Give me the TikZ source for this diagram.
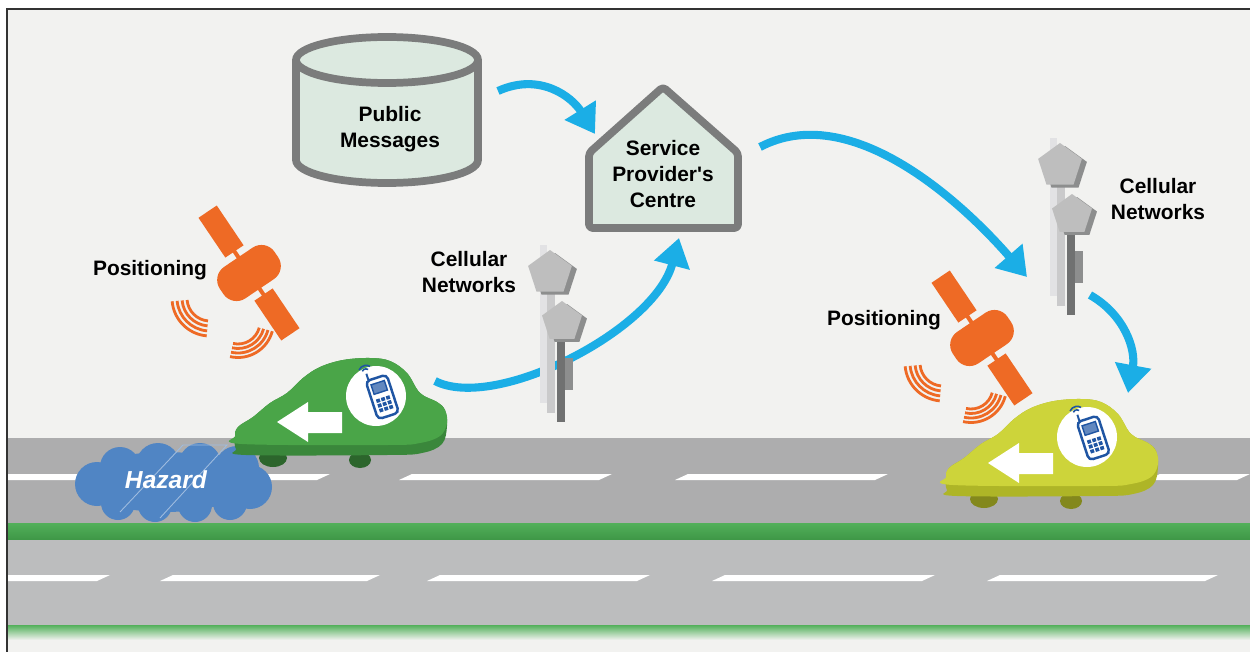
\documentclass[tikz,border=0pt]{standalone}
\usepackage{fontspec}
\setmainfont{Liberation Sans}
\usetikzlibrary{arrows.meta}

\definecolor{paper}{HTML}{F2F2F0}
\definecolor{roadtop}{HTML}{ADADAE}
\definecolor{roadlow}{HTML}{BCBDBE}
\definecolor{verge}{HTML}{52B05A}
\definecolor{vergedark}{HTML}{3E9646}
\definecolor{skyblue}{HTML}{1BAEE6}
\definecolor{outlinegray}{HTML}{7B7C7C}
\definecolor{paleteal}{HTML}{DCE9E0}
\definecolor{satorange}{HTML}{EE6A25}
\definecolor{hazardblue}{HTML}{5085C4}
\definecolor{phoneblue}{HTML}{1F55A3}
\definecolor{poleA}{HTML}{E2E2E4}
\definecolor{poleB}{HTML}{CACACB}
\definecolor{poleC}{HTML}{707171}
\definecolor{headgray}{HTML}{BEBEBE}
\definecolor{headshade}{HTML}{8D8E8E}
\definecolor{cargreen}{HTML}{4AA548}
\definecolor{cargreendark}{HTML}{3A873B}
\definecolor{caryellow}{HTML}{CDD43A}
\definecolor{caryellowdark}{HTML}{AEB527}

\tikzset{
  flow/.style={draw=skyblue, line width=4.6pt, -{Triangle[width=20pt,length=16pt]}},
  lbl/.style={font=\bfseries\fontsize{11.9}{14.8}\selectfont, align=center},
  store/.style={draw=outlinegray, fill=paleteal, line width=4.4pt, line join=round},
  wave/.style={draw=satorange, line width=1.6pt},
  pics/tower/.style={code={
    % poles, back to front
    \fill[poleA] (-10,-28) rectangle (-3,130);
    \fill[poleB] (-3,17) rectangle (5,140);
    \fill[poleC] (7,69) rectangle (15,149);
    \fill[headshade] (15,85) rectangle (23,117);
    % antenna heads
    \foreach \hx/\hy/\hr in {0/0/23, 12/49/21} {
      \begin{scope}[shift={(\hx+5,\hy+3)}]
        \fill[headshade] (270:\hr) -- (342:\hr) -- (54:\hr) -- (126:\hr) -- (198:\hr) -- cycle;
      \end{scope}
      \begin{scope}[shift={(\hx,\hy)}]
        \fill[headgray] (270:\hr) -- (342:\hr) -- (54:\hr) -- (126:\hr) -- (198:\hr) -- cycle;
      \end{scope}
    }
  }},
  pics/satellite/.style={code={
    \begin{scope}[rotate=-56]
      \fill[satorange] (-32,-2) rectangle (32,2);
      \fill[satorange] (-74,-11) rectangle (-26,11);
      \fill[satorange] (26,-11) rectangle (74,11);
      \fill[satorange, rounded corners=9pt] (-19,-33) rectangle (19,33);
    \end{scope}
    % signals sent down to the road
    \foreach \r in {23,28,33,38}
      \draw[wave] (-39,25) ++(95:\r) arc[start angle=95, end angle=175, radius=\r];
    \foreach \r in {22,26.5,31,35.5}
      \draw[wave] (-11,49) ++(15:\r) arc[start angle=15, end angle=103, radius=\r];
  }},
  pics/car/.style 2 args={code={
    % wheels
    \fill[#2!75!black] (-103,62) ellipse[x radius=14, y radius=9];
    \fill[#2!75!black] (-16,64) ellipse[x radius=11, y radius=8];
    % side face, then top face
    \fill[#2] plot[smooth cycle, tension=.6] coordinates {(-138,31) (-123,21) (-106,7) (-89,-3) (-73,-18)
      (-56,-29) (-33,-36) (-6,-38) (14,-35) (31,-23) (44,-3) (61,6) (69,14) (71,30) (66,48)
      (46,57) (11,59) (-130,59) (-140,53) (-141,42)};
    \fill[#1] plot[smooth cycle, tension=.6] coordinates {(-138,31) (-123,21) (-106,7) (-89,-3) (-73,-18)
      (-56,-29) (-33,-36) (-6,-38) (14,-35) (31,-23) (44,-3) (61,6) (69,14) (71,27) (64,40)
      (44,47) (11,49) (-134,48) (-141,40)};
    % direction arrow
    \fill[white] (-99,26) -- (-68,6) -- (-68,16) -- (-34,16) -- (-34,37) -- (-68,37) -- (-68,46) -- cycle;
    % phone badge
    \fill[white] (0,0) circle[radius=30];
    \begin{scope}[shift={(6,0)}, rotate=18]
      \draw[phoneblue, line width=1.4pt, rounded corners=2.5pt] (-11,-19) rectangle (11,21);
      \filldraw[draw=phoneblue, fill=phoneblue!70, line width=.8pt] (-7,-14) rectangle (7,-4);
      \foreach \i in {0,1,2}
        \foreach \j in {0,1,2}
          \fill[phoneblue] (-7+\i*5.2,1.5+\j*5) rectangle ++(3.8,3.6);
      \draw[phoneblue, line width=1.1pt] (-8,-19) -- (-8,-26);
      \draw[phoneblue, line width=.9pt] (-8,-27) ++(220:4) arc[start angle=220, end angle=320, radius=4];
      \draw[phoneblue, line width=.9pt] (-8,-27) ++(220:7.5) arc[start angle=220, end angle=320, radius=7.5];
    \end{scope}
  }},
}

\begin{document}
\begin{tikzpicture}[x=0.02cm, y=-0.02cm]
\useasboundingbox (0,0) rectangle (1250,652);
\fill[white] (0,0) rectangle (1250,652);
\fill[paper] (8,10) rectangle (1250,652);

% road with its two carriageways
\fill[roadtop] (8,438) rectangle (1250,523);
\shade[top color=verge, bottom color=vergedark] (8,523) rectangle (1250,540);
\fill[roadlow] (8,540) rectangle (1250,625);
\shade[top color=verge, bottom color=paper] (8,625) rectangle (1250,640);
\foreach \a/\b in {8/110, 190/330, 412/612, 688/888, 1160/1250}
  \fill[white] (\a,474) -- (\b,474) -- (\b-13,480) -- (\a-13,480) -- cycle;
\foreach \a/\b in {8/110, 173/380, 440/650, 725/935, 1000/1218}
  \fill[white] (\a,575) -- (\b,575) -- (\b-13,581) -- (\a-13,581) -- cycle;

% hazard puddle
\fill[hazardblue] (165,482) ellipse[x radius=85, y radius=30]
  (97,484) circle[radius=22] (120,467) circle[radius=20] (158,465) circle[radius=22]
  (200,464) circle[radius=21] (237,468) circle[radius=22] (250,487) circle[radius=22]
  (230,503) circle[radius=17] (195,505) circle[radius=17] (155,505) circle[radius=17]
  (118,503) circle[radius=17];
\draw[hazardblue!55!white, line width=.5pt] (120,512) -- (183,445) -- (227,445) -- (160,518);
\node[font=\bfseries\itshape\fontsize{14}{16}\selectfont, text=white] (hazard) at (166,480) {Hazard};

% message store and provider
\filldraw[store] (296,60) -- (296,160) arc[start angle=180, end angle=0, x radius=91, y radius=23] -- (478,60);
\filldraw[store] (387,60) ellipse[x radius=91, y radius=23];
\node[lbl] (msgs) at (390,129) {Public\\Messages};

\filldraw[store, rounded corners=2pt] (589,153) -- (663,87) -- (738,153) -- (738,228) -- (589,228) -- cycle;
\node[lbl] (spc) at (663,174) {Service\\Provider\textquotesingle s\\Centre};

% ends of the data flows
\coordinate (msgs-out) at (498,91);
\coordinate (spc-in) at (595,134);
\coordinate (car-a-out) at (435,381);
\coordinate (spc-low) at (679,238);
\coordinate (spc-out) at (760,147);
\coordinate (cell-b-in) at (1027,277);
\coordinate (cell-b-out) at (1090,295);
\coordinate (car-b-in) at (1128,393);

\draw[flow] (msgs-out) .. controls (540,72) and (572,97) .. (spc-in);
\draw[flow] (car-a-out) .. controls (495,412) and (655,330) .. (spc-low);
\draw[flow] (spc-out) .. controls (850,100) and (960,200) .. (cell-b-in);
\draw[flow] (cell-b-out) .. controls (1125,315) and (1136,350) .. (car-b-in);

% cell towers
\pic (cell-a) at (550,273) {tower};
\pic (cell-b) at (1060,166) {tower};
\node[lbl] (cell-a-lbl) at (469,272) {Cellular\\Networks};
\node[lbl] (cell-b-lbl) at (1158,199) {Cellular\\Networks};

% positioning satellites
\pic (sat-a) at (249,273) {satellite};
\pic (sat-b) at (982,338) {satellite};
\node[lbl] (pos-a) at (150,270) {Positioning};
\node[lbl] (pos-b) at (884,320) {Positioning};

% vehicles
\pic (car-a) at (376,396) {car={cargreen}{cargreendark}};
\pic (car-b) at (1087,437) {car={caryellow}{caryellowdark}};

% frame
\draw[black!80, line width=1.1pt] (7,652) -- (7,9) -- (1250,9);
\end{tikzpicture}
\end{document}
